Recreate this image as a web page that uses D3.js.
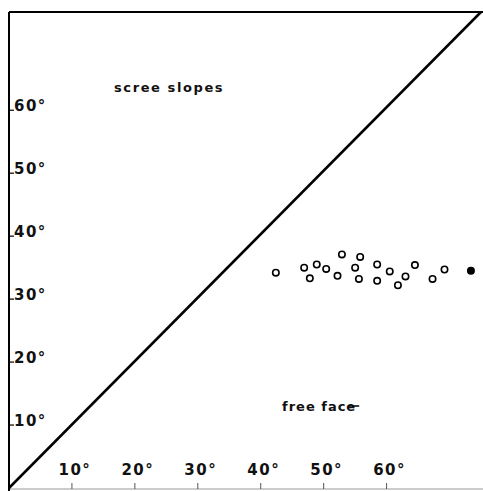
<!DOCTYPE html>
<html>
<head>
<meta charset="utf-8">
<script src="https://cdn.jsdelivr.net/npm/d3@7"></script>
<style>
  body { margin: 0; background: #fff; }
  svg { display: block; }
  .lbl { font-family: "DejaVu Sans", sans-serif; font-weight: bold; fill: #111; }
</style>
</head>
<body>
<div id="chart"></div>
<script>
// free face angle (x) vs scree slope angle (y), degrees
var faceAngles  = [42.4, 46.9, 47.8, 48.9, 50.4, 52.2, 52.9, 55.0, 55.8, 55.6,
                   58.5, 58.5, 60.5, 61.8, 63.0, 64.5, 67.3, 69.2, 73.4];
var screeAngles = [34.2, 35.0, 33.3, 35.5, 34.8, 33.7, 37.1, 35.0, 36.7, 33.2,
                   35.5, 32.9, 34.4, 32.2, 33.6, 35.4, 33.2, 34.7, 34.5];
var filledPoint = [0, 0, 0, 0, 0, 0, 0, 0, 0, 0, 0, 0, 0, 0, 0, 0, 0, 0, 1];
var xTicks = [10, 20, 30, 40, 50, 60];
var yTicks = [10, 20, 30, 40, 50, 60];
var regionLabels = ["scree slopes", "free face"];

var Chart = (function() {

    var width = 483;
    var height = 491;
    var left = 9;
    var right = 481;
    var top = 12;
    var bottom = 488;

    function draw(target) {
        var svg = d3.select(target)
          .append("svg")
          .attr("width", width)
          .attr("height", height);

        var x = d3.scaleLinear().domain([0, 75]).range([left, right]);
        var y = d3.scaleLinear().domain([0, 75.6]).range([bottom, top]);

        // faint bottom axis with small ticks
        svg.append("line")
          .attr("x1", left).attr("x2", width)
          .attr("y1", bottom + 1).attr("y2", bottom + 1)
          .attr("stroke", "#bbb")
          .attr("stroke-width", 1.5);

        svg.selectAll(".xtick")
          .data(xTicks)
          .enter()
          .append("line")
          .attr("class", "xtick")
          .attr("x1", function(d) { return x(d); })
          .attr("x2", function(d) { return x(d); })
          .attr("y1", bottom - 5)
          .attr("y2", bottom + 1)
          .attr("stroke", "#555")
          .attr("stroke-width", 1);

        svg.selectAll(".xlab")
          .data(xTicks)
          .enter()
          .append("text")
          .attr("class", "lbl xlab")
          .attr("x", function(d) { return x(d) + 3; })
          .attr("y", 475)
          .attr("text-anchor", "middle")
          .attr("font-size", 15)
          .attr("letter-spacing", 1.5)
          .text(function(d) { return d + "°"; });

        // left axis and top border
        svg.append("line")
          .attr("x1", left).attr("x2", left)
          .attr("y1", top).attr("y2", height)
          .attr("stroke", "#000")
          .attr("stroke-width", 2);

        svg.append("line")
          .attr("x1", left).attr("x2", width)
          .attr("y1", top).attr("y2", top)
          .attr("stroke", "#000")
          .attr("stroke-width", 2);

        svg.selectAll(".ytick")
          .data(yTicks)
          .enter()
          .append("line")
          .attr("class", "ytick")
          .attr("x1", left)
          .attr("x2", left + 5)
          .attr("y1", function(d) { return y(d); })
          .attr("y2", function(d) { return y(d); })
          .attr("stroke", "#000")
          .attr("stroke-width", 1.2);

        svg.selectAll(".ylab")
          .data(yTicks)
          .enter()
          .append("text")
          .attr("class", "lbl ylab")
          .attr("x", left + 5)
          .attr("y", function(d) { return y(d) + 1; })
          .attr("font-size", 15)
          .attr("letter-spacing", 1.5)
          .text(function(d) { return d + "°"; });

        // equal-angle diagonal
        svg.append("line")
          .attr("x1", x(0)).attr("y1", y(0))
          .attr("x2", x(75)).attr("y2", y(75.6))
          .attr("stroke", "#000")
          .attr("stroke-width", 2.5);

        // observations
        svg.selectAll(".pt")
          .data(faceAngles)
          .enter()
          .append("circle")
          .attr("class", "pt")
          .attr("cx", function(d) { return x(d); })
          .attr("cy", function(d, i) { return y(screeAngles[i]); })
          .attr("r", 3.2)
          .attr("fill", function(d, i) { return filledPoint[i] ? "#000" : "#fff"; })
          .attr("stroke", "#000")
          .attr("stroke-width", 1.6);

        svg.append("text")
          .attr("class", "lbl")
          .attr("x", 114)
          .attr("y", 92)
          .attr("font-size", 13)
          .attr("letter-spacing", 1.6)
          .text(regionLabels[0]);

        var ff = svg.append("text")
          .attr("class", "lbl")
          .attr("x", 282)
          .attr("y", 411)
          .attr("font-size", 13)
          .attr("letter-spacing", 1)
          .text(regionLabels[1]);

        // little leader stroke out of the last "e"
        var end = 282 + ff.node().getComputedTextLength();
        svg.append("line")
          .attr("x1", end - 8).attr("x2", end + 3)
          .attr("y1", 406).attr("y2", 406)
          .attr("stroke", "#000")
          .attr("stroke-width", 1.5);
    }

    return {
        "draw": draw
    };

})();

Chart.draw("#chart");
</script>
</body>
</html>
